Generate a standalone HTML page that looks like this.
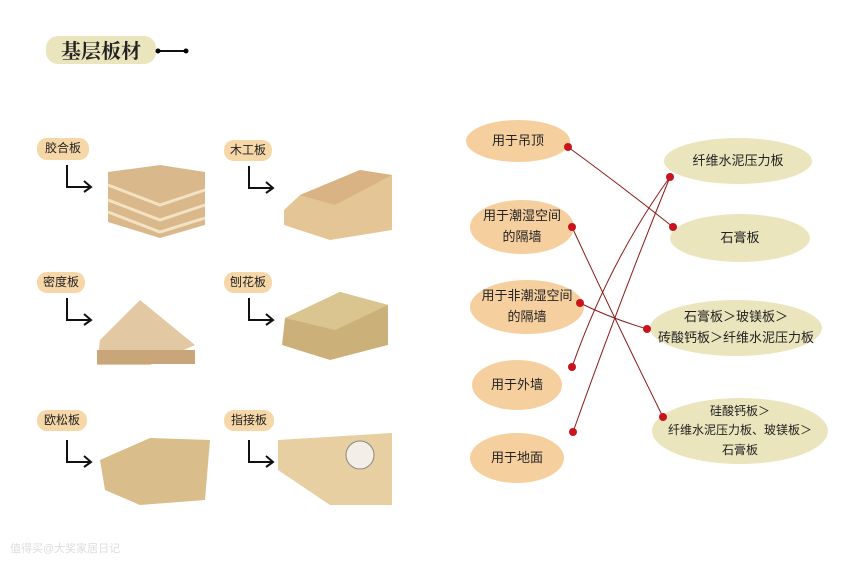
<!DOCTYPE html>
<html><head><meta charset="utf-8"><style>
body{margin:0;width:850px;height:567px;background:#fff;overflow:hidden;position:relative;font-family:"Liberation Sans","Noto Sans CJK SC",sans-serif}
.t{position:absolute;font-size:13px;color:#222;text-align:center;display:flex;align-items:center;justify-content:center;line-height:1.6}
.o{background:#f6cf9f;border-radius:50%}
.b{background:#ebe5bd;border-radius:50%}
.l{background:#f6d7a8;border-radius:10px;font-size:12px}
</style></head><body>
<div class="t" style="left:46px;top:36px;width:110px;height:28px;background:#ebe5bd;border-radius:12px;font-size:20px;font-weight:bold;font-family:'Noto Serif CJK SC',serif">基层板材</div>
<svg width="850" height="567" style="position:absolute;left:0;top:0">
<line x1="158" y1="51" x2="186" y2="51" stroke="#111" stroke-width="2"/><circle cx="158" cy="51" r="2.5"/><circle cx="186" cy="51" r="2.5"/>
<g fill="none" stroke="#111" stroke-width="2">
<path d="M67 165V187H90M84 181l7 6-7 5"/><path d="M249 166V188H273M266 182l7 6-7 5"/>
<path d="M67 298V320H90M84 314l7 6-7 5"/><path d="M249 298V320H273M266 314l7 6-7 5"/>
<path d="M67 440V462H90M84 456l7 6-7 5"/><path d="M249 440V462H273M266 456l7 6-7 5"/>
</g>
<!-- plywood -->
<polygon points="108,172 160,165 205,172 205,225 160,238 108,222" fill="#d9b98c"/>
<g stroke="#f3e2c4" stroke-width="3" fill="none"><path d="M108,185 160,205 205,190"/><path d="M108,200 160,220 205,205"/><path d="M108,212 160,232 205,218"/></g>
<!-- blockboard -->
<polygon points="300,195 360,170 392,175 392,230 330,240 284,225 284,210" fill="#e3c596"/>
<polygon points="300,195 360,170 392,175 335,205" fill="#d9b383"/>
<!-- MDF -->
<polygon points="100,340 140,300 195,345 150,365 97,365" fill="#e2c9a4"/>
<rect x="97" y="350" width="98" height="14" fill="#c9a679"/>
<!-- particle -->
<polygon points="285,318 340,292 388,305 388,345 330,360 282,345" fill="#cbb07a"/>
<polygon points="285,318 340,292 388,305 335,330" fill="#dac48f"/>
<!-- OSB -->
<polygon points="100,460 150,438 210,440 205,500 140,505 105,490" fill="#d9bd8a"/>
<!-- finger -->
<polygon points="278,440 392,433 392,505 330,505 278,470" fill="#e8cfa2"/>
<circle cx="360" cy="455" r="14" fill="#f3efe6" stroke="#888"/>
</svg>
<div class="t l" style="left:37px;top:138px;width:52px;height:22px">胶合板</div>
<div class="t l" style="left:224px;top:140px;width:48px;height:21px">木工板</div>
<div class="t l" style="left:37px;top:272px;width:48px;height:21px">密度板</div>
<div class="t l" style="left:224px;top:272px;width:48px;height:21px">刨花板</div>
<div class="t l" style="left:37px;top:410px;width:50px;height:21px">欧松板</div>
<div class="t l" style="left:224px;top:410px;width:50px;height:21px">指接板</div>

<div class="t o" style="left:466px;top:120px;width:104px;height:42px">用于吊顶</div>
<div class="t o" style="left:470px;top:200px;width:104px;height:54px">用于潮湿空间<br>的隔墙</div>
<div class="t o" style="left:470px;top:280px;width:114px;height:54px">用于非潮湿空间<br>的隔墙</div>
<div class="t o" style="left:472px;top:360px;width:90px;height:50px">用于外墙</div>
<div class="t o" style="left:470px;top:433px;width:94px;height:50px">用于地面</div>
<div class="t b" style="left:664px;top:138px;width:148px;height:46px">纤维水泥压力板</div>
<div class="t b" style="left:670px;top:214px;width:140px;height:48px">石膏板</div>
<div class="t b" style="left:650px;top:300px;width:172px;height:56px">石膏板＞玻镁板＞<br>砖酸钙板＞纤维水泥压力板</div>
<div class="t b" style="left:652px;top:398px;width:176px;height:66px;font-size:12px">硅酸钙板＞<br>纤维水泥压力板、玻镁板＞<br>石膏板</div>
<svg width="850" height="567" style="position:absolute;left:0;top:0">
<g stroke="#8b1a1a" stroke-width="1" fill="none">
<path d="M568 147 Q620 185 673 227"/><path d="M572 227 Q615 320 663 417"/><path d="M580 303 Q610 318 647 329"/>
<path d="M572 367 Q610 260 670 177"/><path d="M573 432 Q620 300 670 177"/>
</g>
<g fill="#c8141e"><circle cx="568" cy="147" r="4"/><circle cx="670" cy="177" r="4"/><circle cx="572" cy="227" r="4"/><circle cx="673" cy="227" r="4"/><circle cx="580" cy="303" r="4"/><circle cx="647" cy="329" r="4"/><circle cx="572" cy="367" r="4"/><circle cx="573" cy="432" r="4"/><circle cx="663" cy="417" r="4"/></g>
</svg>
<div style="position:absolute;left:10px;top:540px;font-size:11px;color:#ddd">值得买@大奖家居日记</div>
</body></html>
